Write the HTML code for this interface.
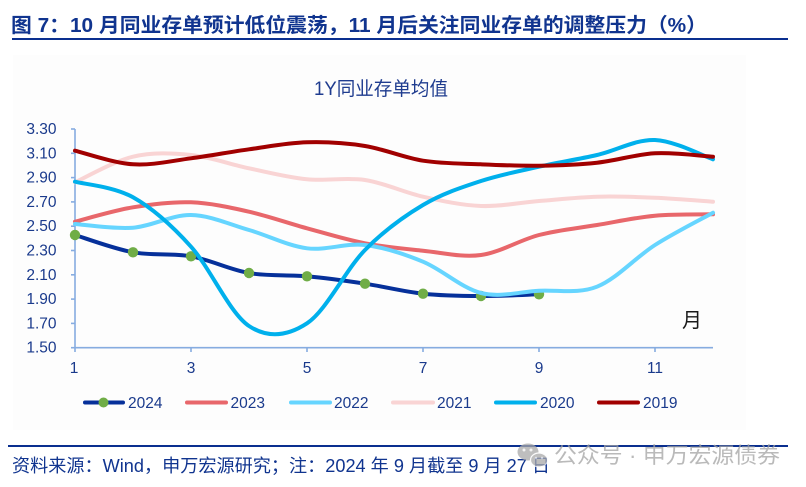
<!DOCTYPE html>
<html>
<head>
<meta charset="utf-8">
<style>
html,body{margin:0;padding:0;background:#fff;}
svg{display:block;}
text{font-family:"Liberation Sans","Noto Sans CJK SC",sans-serif;}
</style>
</head>
<body>
<svg width="806" height="487" viewBox="0 0 806 487" xmlns="http://www.w3.org/2000/svg">
  <rect x="0" y="0" width="806" height="487" fill="#ffffff"/>
  <!-- Title -->
  <text x="11" y="32" font-size="20" font-weight="bold" fill="#10348f" textLength="696" lengthAdjust="spacingAndGlyphs">图 7：10 月同业存单预计低位震荡，11 月后关注同业存单的调整压力（%）</text>
  <rect x="12" y="38" width="776" height="2" fill="#0a2f8f"/>

  <!-- panel -->
  <rect x="13" y="55" width="733" height="375" fill="#fdfdfd"/>

  <!-- chart title -->
  <text x="314" y="95" font-size="19" fill="#1f3c8f" textLength="134" lengthAdjust="spacingAndGlyphs">1Y同业存单均值</text>

  <!-- y labels -->
  <g font-size="15.5" fill="#1a3a8c" text-anchor="end">
    <text x="56.5" y="134">3.30</text>
    <text x="56.5" y="158.3">3.10</text>
    <text x="56.5" y="182.6">2.90</text>
    <text x="56.5" y="206.9">2.70</text>
    <text x="56.5" y="231.2">2.50</text>
    <text x="56.5" y="255.5">2.30</text>
    <text x="56.5" y="279.8">2.10</text>
    <text x="56.5" y="304.1">1.90</text>
    <text x="56.5" y="328.4">1.70</text>
    <text x="56.5" y="352.7">1.50</text>
  </g>
  <!-- x labels -->
  <g font-size="15.5" fill="#1a3a8c" text-anchor="middle">
    <text x="74" y="373">1</text>
    <text x="191" y="373">3</text>
    <text x="307" y="373">5</text>
    <text x="423" y="373">7</text>
    <text x="539" y="373">9</text>
    <text x="655" y="373">11</text>
  </g>

  <!-- axes -->
  <g stroke="#86ace0" stroke-width="1.6" fill="none">
    <line x1="75" y1="129" x2="75" y2="348.5"/>
    <line x1="74.5" y1="347.7" x2="713" y2="347.7"/>
    <line x1="71" y1="129" x2="75" y2="129"/>
    <line x1="71" y1="153.3" x2="75" y2="153.3"/>
    <line x1="71" y1="177.6" x2="75" y2="177.6"/>
    <line x1="71" y1="201.9" x2="75" y2="201.9"/>
    <line x1="71" y1="226.2" x2="75" y2="226.2"/>
    <line x1="71" y1="250.5" x2="75" y2="250.5"/>
    <line x1="71" y1="274.8" x2="75" y2="274.8"/>
    <line x1="71" y1="299.1" x2="75" y2="299.1"/>
    <line x1="71" y1="323.4" x2="75" y2="323.4"/>
    <line x1="71" y1="347.7" x2="75" y2="347.7"/>
    <line x1="75" y1="347.7" x2="75" y2="352"/>
    <line x1="191" y1="347.7" x2="191" y2="352"/>
    <line x1="307" y1="347.7" x2="307" y2="352"/>
    <line x1="423" y1="347.7" x2="423" y2="352"/>
    <line x1="539" y1="347.7" x2="539" y2="352"/>
    <line x1="655" y1="347.7" x2="655" y2="352"/>
  </g>

  <g fill="none" stroke-width="4" stroke-linecap="round" stroke-linejoin="round">
    <!-- 2024 -->
    <path stroke="#06309a" d="M75,235 C84.67,237.88 113.67,248.75 133,252.3 C152.33,255.85 171.67,252.85 191,256.3 C210.33,259.75 229.67,269.67 249,273 C268.33,276.33 287.67,274.52 307,276.3 C326.33,278.08 345.67,280.8 365,283.7 C384.33,286.6 403.67,291.65 423,293.7 C442.33,295.75 461.67,295.9 481,296 C500.33,296.1 529.33,294.58 539,294.3"/>
  </g>
  <g fill="#70ad47">
    <circle cx="75" cy="235" r="5.2"/>
    <circle cx="133" cy="252.3" r="5.2"/>
    <circle cx="191" cy="256.3" r="5.2"/>
    <circle cx="249" cy="273" r="5.2"/>
    <circle cx="307" cy="276.3" r="5.2"/>
    <circle cx="365" cy="283.7" r="5.2"/>
    <circle cx="423" cy="293.7" r="5.2"/>
    <circle cx="481" cy="296" r="5.2"/>
    <circle cx="539" cy="294.3" r="5.2"/>
  </g>
  <g fill="none" stroke-width="4" stroke-linecap="round" stroke-linejoin="round">
    <!-- 2023 -->
    <path stroke="#e8676b" d="M75,221.7 C84.67,219.3 113.67,210.53 133,207.3 C152.33,204.07 171.67,201.57 191,202.3 C210.33,203.03 229.67,207.37 249,211.7 C268.33,216.03 287.67,223.03 307,228.3 C326.33,233.57 345.67,239.57 365,243.3 C384.33,247.03 403.67,248.75 423,250.7 C442.33,252.65 461.67,257.62 481,255 C500.33,252.38 519.67,240 539,235 C558.33,230 577.67,228.22 597,225 C616.33,221.78 635.67,217.48 655,215.7 C674.33,213.92 703.33,214.53 713,214.3"/>
    <!-- 2022 -->
    <path stroke="#66d5ff" d="M75,224 C84.67,224.62 113.67,229.2 133,227.7 C152.33,226.2 171.67,214.62 191,215 C210.33,215.38 229.67,224.45 249,230 C268.33,235.55 287.67,245.8 307,248.3 C326.33,250.8 345.67,242.77 365,245 C384.33,247.23 403.67,253.7 423,261.7 C442.33,269.7 461.67,288.17 481,293 C500.33,297.83 519.67,291.75 539,290.7 C558.33,289.65 577.67,294.32 597,286.7 C616.33,279.08 635.67,257.33 655,245 C674.33,232.67 703.33,218.08 713,212.7"/>
    <!-- 2021 -->
    <path stroke="#f9d4d4" d="M75,182.3 C84.67,178.03 113.67,161.25 133,156.7 C152.33,152.15 171.67,153.07 191,155 C210.33,156.93 229.67,164.25 249,168.3 C268.33,172.35 287.67,177.35 307,179.3 C326.33,181.25 345.67,177.1 365,180 C384.33,182.9 403.67,192.37 423,196.7 C442.33,201.03 461.67,205.28 481,206 C500.33,206.72 519.67,202.55 539,201 C558.33,199.45 577.67,197.25 597,196.7 C616.33,196.15 635.67,196.87 655,197.7 C674.33,198.53 703.33,201.03 713,201.7"/>
    <!-- 2020 -->
    <path stroke="#00b0ec" d="M75,181.7 C84.67,184.3 113.67,186.47 133,197.3 C152.33,208.13 171.67,225.25 191,246.7 C210.33,268.15 229.67,313.23 249,326 C268.33,338.77 287.67,335.97 307,323.3 C326.33,310.63 345.67,269.72 365,250 C384.33,230.28 403.67,216.5 423,205 C442.33,193.5 461.67,187.38 481,181 C500.33,174.62 519.67,171.03 539,166.7 C558.33,162.37 577.67,159.45 597,155 C616.33,150.55 635.67,139.28 655,140 C674.33,140.72 703.33,156.08 713,159.3"/>
    <!-- 2019 -->
    <path stroke="#a10000" d="M75,150.7 C84.67,152.97 113.67,163.03 133,164.3 C152.33,165.57 171.67,160.8 191,158.3 C210.33,155.8 229.67,151.97 249,149.3 C268.33,146.63 287.67,142.85 307,142.3 C326.33,141.75 345.67,142.93 365,146 C384.33,149.07 403.67,157.65 423,160.7 C442.33,163.75 461.67,163.47 481,164.3 C500.33,165.13 519.67,165.97 539,165.7 C558.33,165.43 577.67,164.77 597,162.7 C616.33,160.63 635.67,154.3 655,153.3 C674.33,152.3 703.33,156.13 713,156.7"/>
  </g>

  <!-- 月 -->
  <text x="682" y="327" font-size="20" fill="#1a1a1a">月</text>

  <!-- legend -->
  <g stroke-width="4" stroke-linecap="round">
    <line x1="85" y1="402.5" x2="123" y2="402.5" stroke="#06309a"/>
    <line x1="187" y1="402.5" x2="226" y2="402.5" stroke="#e8676b"/>
    <line x1="291" y1="402.5" x2="330" y2="402.5" stroke="#66d5ff"/>
    <line x1="393" y1="402.5" x2="433" y2="402.5" stroke="#f9d4d4"/>
    <line x1="496" y1="402.5" x2="535" y2="402.5" stroke="#00b0ec"/>
    <line x1="599" y1="402.5" x2="638" y2="402.5" stroke="#a10000"/>
  </g>
  <circle cx="103.5" cy="402.5" r="5" fill="#70ad47"/>
  <g font-size="15.5" fill="#1a3a8c">
    <text x="128" y="408">2024</text>
    <text x="230.5" y="408">2023</text>
    <text x="334" y="408">2022</text>
    <text x="437" y="408">2021</text>
    <text x="540" y="408">2020</text>
    <text x="643" y="408">2019</text>
  </g>

  <!-- footer -->
  <rect x="8" y="445" width="780" height="2" fill="#0a2f8f"/>
  <text x="12" y="472" font-size="18" fill="#10348f" textLength="538" lengthAdjust="spacingAndGlyphs">资料来源：Wind，申万宏源研究；注：2024 年 9 月截至 9 月 27 日</text>

  <!-- watermark -->
  <g opacity="0.75">
    <ellipse cx="528" cy="452" rx="10.5" ry="8.5" fill="#a9a9a9"/>
    <ellipse cx="539" cy="460" rx="8.5" ry="7" fill="#a9a9a9" stroke="#fcfcfc" stroke-width="1.2"/>
    <circle cx="524" cy="450" r="1.5" fill="#f0f0f0"/>
    <circle cx="531" cy="450" r="1.5" fill="#f0f0f0"/>
    <circle cx="536" cy="458" r="1.2" fill="#f0f0f0"/>
    <circle cx="542" cy="458" r="1.2" fill="#f0f0f0"/>
    <text x="554" y="463" font-size="22" fill="#a3a3a3" textLength="226" lengthAdjust="spacingAndGlyphs">公众号 · 申万宏源债券</text>
  </g>
</svg>
</body>
</html>
